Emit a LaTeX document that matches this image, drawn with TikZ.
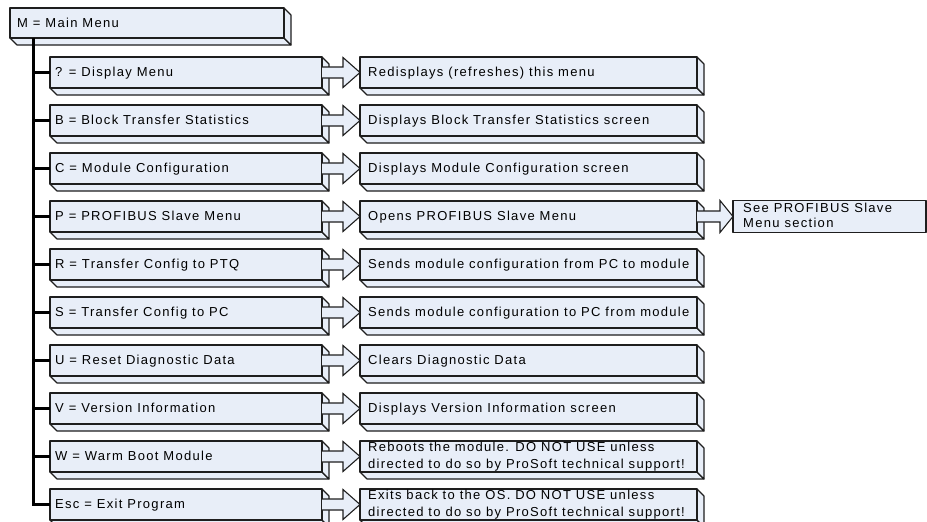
\documentclass[tikz,border=0pt]{standalone}
\usepackage{fontspec}
\setmainfont{Liberation Sans}[LetterSpace=10]
\usetikzlibrary{calc}

\definecolor{boxfill}{RGB}{232,238,248}
\definecolor{edge}{RGB}{30,30,30}

\tikzset{
  x=1pt, y=-1pt,
  face/.style={fill=boxfill, draw=edge, line width=1.1pt, line join=round},
  front/.style={face, rectangle, inner sep=0pt, outer sep=0pt},
  lbl/.style={font=\fontsize{13}{17}\selectfont, inner sep=0pt, anchor=base west},
  trunk/.style={line width=3pt, black, line join=miter},
  blkline/.style={draw=edge, line width=1.1pt, line join=miter},
}

% 3D box: name, x1, y1, x2, y2, depth
\newcommand\bevelbox[6]{%
  \draw[face] (#2,#5) -- (#4,#5) -- (#4+#6,#5+#6) -- (#2+#6,#5+#6) -- cycle;
  \draw[face] (#4,#3) -- (#4+#6,#3+#6) -- (#4+#6,#5+#6) -- (#4,#5) -- cycle;
  \node[front, minimum width={#4-#2}, minimum height={#5-#3}] (#1) at ({(#2+#4)/2},{(#3+#5)/2}) {};
}

% block arrow from one box to the next: from, to, shaft length, shaft half height, head half height
\newcommand\blockarrow[5]{%
  \fill[boxfill] ($(#1.east)+(0,-#4)$) -- ++(#3,0) -- ++(0,#4-#5) -- (#2.west)
    -- ($(#1.east)+(#3,#5)$) -- ++(0,#4-#5) -- ($(#1.east)+(0,#4)$) -- cycle;
  \draw[blkline] ($(#1.east)+(0,-#4)$) -- ++(#3,0) -- ++(0,#4-#5) -- (#2.west)
    -- ($(#1.east)+(#3,#5)$) -- ++(0,#4-#5) -- ($(#1.east)+(0,#4)$);
}

% one menu row: index, name, key text, action text, baseline offset of action text
\newcommand\menurow[5]{%
  \pgfmathsetmacro\rowtop{57+48*#1}
  \bevelbox{#2}{50}{\rowtop}{322}{\rowtop+31}{7}
  \bevelbox{#2r}{360}{\rowtop}{697}{\rowtop+31}{7}
  \node[lbl] (#2t) at (55,\rowtop+19) {#3};
  \node[lbl] (#2rt) at (368,\rowtop+#5) {#4};
  \blockarrow{#2}{#2r}{21}{5.5}{15}
  \draw[trunk] (trunktop |- #2.west) -- (#2.west);
}

\newcommand\twolines[2]{\begin{tabular}[t]{@{}l@{}}#1\\#2\end{tabular}}

\begin{document}
\begin{tikzpicture}
\useasboundingbox (0,0) rectangle (927,522);
\clip (0,0) rectangle (927,522);

% main menu box and the trunk line below it
\bevelbox{main}{10}{8}{284}{38}{7}
\node[lbl] (maint) at (17,27.5) {M = Main Menu};
\coordinate (trunktop) at (33,38);

\menurow{0}{disp}{? = Display Menu}{Redisplays (refreshes) this menu}{19}
\menurow{1}{blk}{B = Block Transfer Statistics}{Displays Block Transfer Statistics screen}{19}
\menurow{2}{conf}{C = Module Configuration}{Displays Module Configuration screen}{19}
\menurow{3}{prof}{P = PROFIBUS Slave Menu}{Opens PROFIBUS Slave Menu}{19}
\menurow{4}{toptq}{R = Transfer Config to PTQ}{Sends module configuration from PC to module}{19}
\menurow{5}{topc}{S = Transfer Config to PC}{Sends module configuration to PC from module}{19}
\menurow{6}{diag}{U = Reset Diagnostic Data}{Clears Diagnostic Data}{19}
\menurow{7}{ver}{V = Version Information}{Displays Version Information screen}{19}
\menurow{8}{warm}{W = Warm Boot Module}{\twolines{Reboots the module. DO NOT USE unless}{directed to do so by ProSoft technical support!}}{10}
\menurow{9}{esc}{Esc = Exit Program}{\twolines{Exits back to the OS. DO NOT USE unless}{directed to do so by ProSoft technical support!}}{10}

\draw[trunk] (trunktop) |- (esc.west);

% PROFIBUS slave menu reference
\node[front, minimum width=193, minimum height=32] (see) at (829.5,216.5) {};
\blockarrow{profr}{see}{23}{5.5}{16}
\node[lbl, font=\fontsize{13}{15}\selectfont] (seet) at (743,212)
  {\twolines{See PROFIBUS Slave}{Menu section}};
\end{tikzpicture}
\end{document}
